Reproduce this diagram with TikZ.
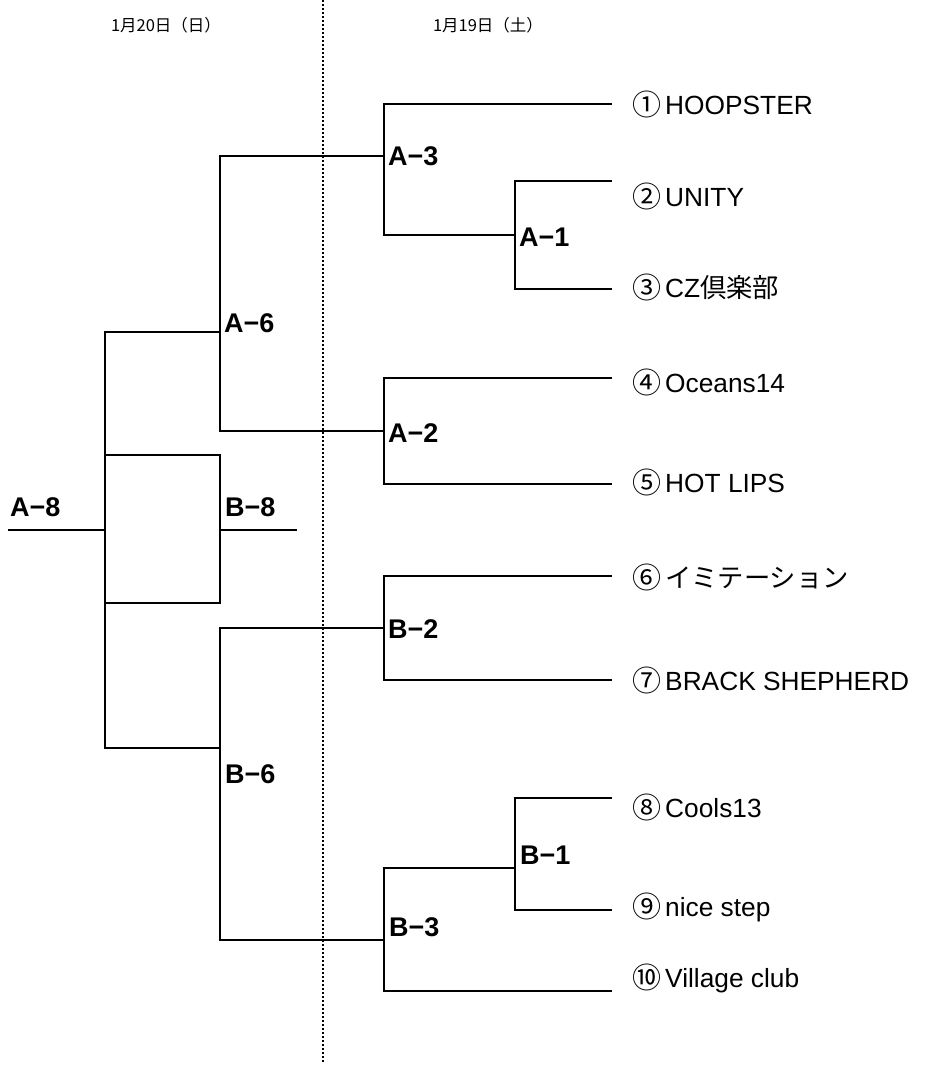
\documentclass[tikz,border=0pt]{standalone}
\usepackage{fontspec}
\setmainfont{Liberation Sans}
\newfontfamily\jpfont{Noto Sans CJK JP}
\newcommand{\circnum}[1]{\raisebox{-1.5pt}{\jpfont\fontsize{29}{29}\selectfont #1}}
\begin{document}
\begin{tikzpicture}[x=1pt,y=-1pt,
  br/.style={line width=1.5pt},
  thinbr/.style={line width=1.1pt},
  dotline/.style={line width=2pt,dash pattern=on 2pt off 2pt},
  lab/.style={anchor=base west,inner sep=0pt,font=\fontsize{27}{27}\selectfont\bfseries},
  team/.style={anchor=base west,inner sep=0pt,font=\fontsize{26.3}{26.3}\selectfont},
  hdr/.style={inner sep=0pt,font=\jpfont\fontsize{16.5}{16.5}\selectfont}]
\useasboundingbox (0,0) rectangle (926,1065);
% headers
\node[hdr] (h1) at (166,25) {1月20日（日）};
\node[hdr] (h2) at (488,25) {1月19日（土）};
% dotted divider
\coordinate (dtop) at (323,0);
\coordinate (dbot) at (323,1062);
\draw[dotline] (dtop) -- (dbot);
% entry line ends
\coordinate (e1) at (612,104);
\coordinate (e2) at (612,181);
\coordinate (e3) at (612,289);
\coordinate (e4) at (612,378);
\coordinate (e5) at (612,484);
\coordinate (e6) at (612,576);
\coordinate (e7) at (612,680);
\coordinate (e8) at (612,798);
\coordinate (e9) at (612,910);
\coordinate (e10) at (612,991);
% junctions
\coordinate (A1) at (515,235);
\coordinate (A3) at (384,156);
\coordinate (A2) at (384,431);
\coordinate (A6) at (220,332);
\coordinate (B2) at (384,628);
\coordinate (B1) at (515,868);
\coordinate (B3) at (384,940);
\coordinate (B6) at (220,748);
\coordinate (A8) at (105,530);
\coordinate (A8out) at (8,530);
\coordinate (B8) at (220,530);
\coordinate (B8out) at (297,530);
\coordinate (b8t) at (105,455);
\coordinate (b8b) at (105,603);
% brackets
\draw[br] (e2) -| (A1) |- (e3);
\draw[br] (e1) -| (A3) |- (A1);
\draw[br] (e4) -| (A2) |- (e5);
\draw[br] (A3) -| (A6) |- (A2);
\draw[br] (e6) -| (B2) |- (e7);
\draw[br] (e8) -| (B1) |- (e9);
\draw[br] (B1) -| (B3) |- (e10);
\draw[br] (B2) -| (B6) |- (B3);
\draw[br] (A6) -| (A8) |- (B6);
\draw[br] (A8) -- (A8out);
\draw[thinbr] (b8t) -| (B8) |- (b8b);
\draw[thinbr] (B8) -- (B8out);
% match labels
\node[lab] (lA3) at (388,165) {A−3};
\node[lab] (lA1) at (519,246) {A−1};
\node[lab] (lA6) at (224,332) {A−6};
\node[lab] (lA2) at (388,442) {A−2};
\node[lab] (lA8) at (10,516) {A−8};
\node[lab] (lB8) at (225,516) {B−8};
\node[lab] (lB2) at (388,638) {B−2};
\node[lab] (lB6) at (225,783) {B−6};
\node[lab] (lB1) at (520,864) {B−1};
\node[lab] (lB3) at (389,936) {B−3};
% teams
\node[team] (t1) at (632,114) {\circnum{①}\hspace{4pt}HOOPSTER};
\node[team] (t2) at (632,206) {\circnum{②}\hspace{4pt}UNITY};
\node[team] (t3) at (632,297) {\circnum{③}\hspace{4pt}CZ{\jpfont 倶楽部}};
\node[team] (t4) at (632,392) {\circnum{④}\hspace{4pt}Oceans14};
\node[team] (t5) at (632,492) {\circnum{⑤}\hspace{4pt}HOT LIPS};
\node[team] (t6) at (632,587) {\circnum{⑥}\hspace{4pt}{\jpfont イミテーション}};
\node[team] (t7) at (632,690) {\circnum{⑦}\hspace{4pt}BRACK SHEPHERD};
\node[team] (t8) at (632,817) {\circnum{⑧}\hspace{4pt}Cools13};
\node[team] (t9) at (632,916) {\circnum{⑨}\hspace{4pt}nice step};
\node[team] (t10) at (632,987) {\circnum{⑩}\hspace{4pt}Village club};
\end{tikzpicture}
\end{document}
